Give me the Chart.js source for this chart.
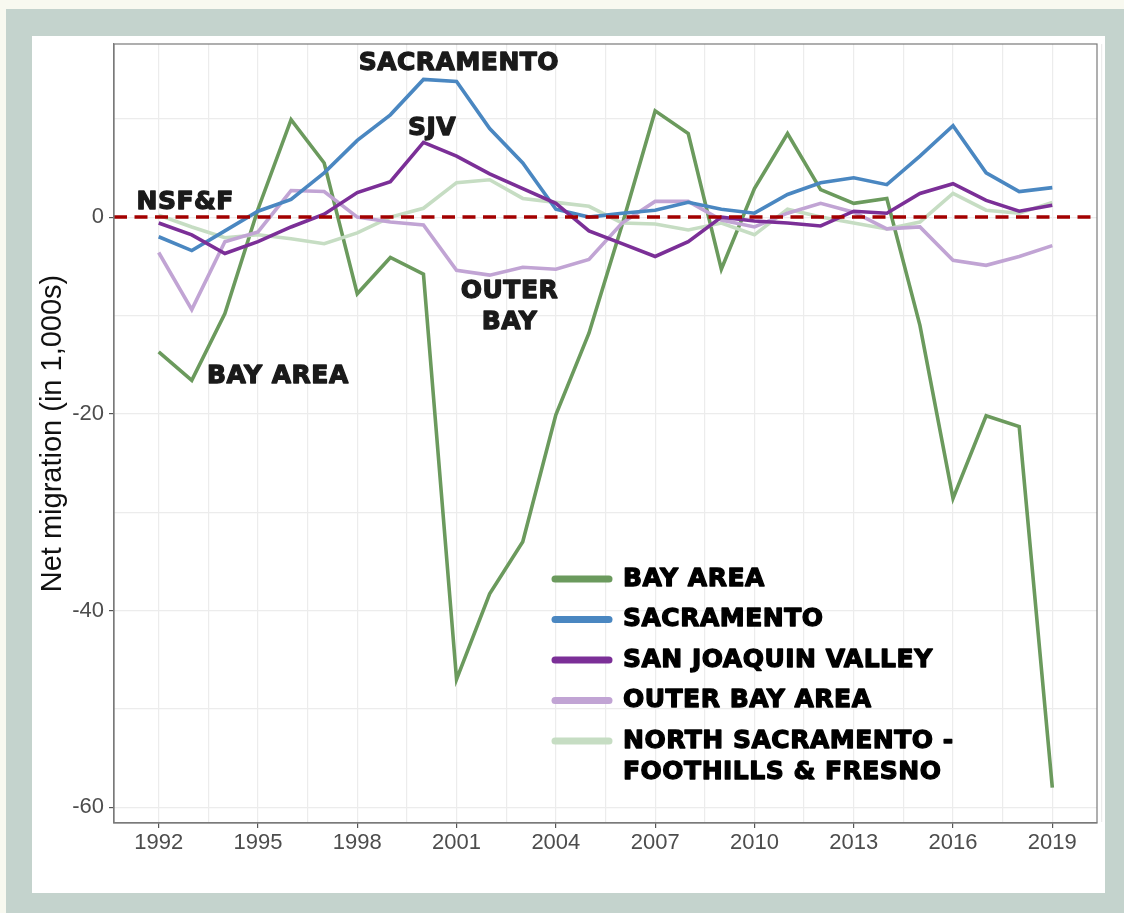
<!DOCTYPE html>
<html>
<head>
<meta charset="utf-8">
<script src="https://cdn.jsdelivr.net/npm/chart.js@4.4.1/dist/chart.umd.min.js"></script>
<style>
    html, body { margin: 0; padding: 0; }
    body { width: 1124px; height: 913px; background: #f8f9f0; position: relative; overflow: hidden; }
    #frame { position: absolute; left: 6px; top: 9px; right: 0; bottom: 0; background: #c4d3cd; }
    #panel { position: absolute; left: 32px; top: 36px; width: 1073px; height: 857px; background: #fff; }
    #migrationChart { display: block; }
</style>
</head>
<body>
<div id="frame"></div>
<div id="panel"><canvas id="migrationChart" width="1073" height="857"></canvas></div>
<script>
const years = [1992, 1993, 1994, 1995, 1996, 1997, 1998, 1999, 2000, 2001, 2002, 2003, 2004, 2005,
    2006, 2007, 2008, 2009, 2010, 2011, 2012, 2013, 2014, 2015, 2016, 2017, 2018, 2019];

// net migration, thousands
const bayArea = [-13.7, -16.6, -9.8, 0.8, 9.9, 5.5, -7.8, -4.1, -5.8, -47.0, -38.3, -33.0, -20.1, -11.8,
    -0.8, 10.8, 8.5, -5.3, 2.9, 8.5, 2.8, 1.4, 1.9, -11.0, -28.6, -20.2, -21.3, -58.0];
const sacramento = [-2.0, -3.4, -1.4, 0.6, 1.8, 4.5, 7.8, 10.4, 14.0, 13.8, 9.0, 5.5, 0.8, 0.0,
    0.4, 0.7, 1.5, 0.8, 0.4, 2.3, 3.5, 4.0, 3.3, 6.2, 9.3, 4.5, 2.6, 3.0];
const sanJoaquin = [-0.6, -1.8, -3.7, -2.5, -1.0, 0.3, 2.5, 3.6, 7.6, 6.2, 4.4, 2.9, 1.4, -1.4,
    -2.7, -4.0, -2.5, 0.0, -0.4, -0.6, -0.9, 0.6, 0.4, 2.4, 3.4, 1.7, 0.6, 1.2];
const outerBay = [-3.6, -9.4, -2.5, -1.5, 2.7, 2.6, 0.0, -0.5, -0.8, -5.4, -5.9, -5.1, -5.3, -4.3,
    -0.6, 1.6, 1.6, -0.3, -1.0, 0.4, 1.4, 0.5, -1.2, -1.0, -4.4, -4.9, -4.0, -2.9];
const northSac = [0.2, -1.0, -2.1, -1.8, -2.2, -2.7, -1.6, 0.0, 0.9, 3.5, 3.8, 1.9, 1.5, 1.1,
    -0.6, -0.7, -1.3, -0.6, -1.8, 0.8, 0.0, -0.6, -1.2, -0.5, 2.4, 0.7, 0.4, 1.5];

const seriesNames = ['BAY AREA', 'SACRAMENTO', 'SAN JOAQUIN VALLEY', 'OUTER BAY AREA',
    ['NORTH SACRAMENTO -', 'FOOTHILLS & FRESNO']];

const xTickLabels = [1992, 1995, 1998, 2001, 2004, 2007, 2010, 2013, 2016, 2019];
const yTickLabels = [-60, -40, -20, 0];

const colors = ['#6b9a5d', '#4a87c1', '#7b2f97', '#c1a4d4', '#c6ddc3'];
const drawOrder = [4, 1, 0, 2, 3];

// in-plot labels, placed in data units
const annotations = [
    { text: 'SACRAMENTO', x: 2001.07, y: 15.6 },
    { text: 'SJV', x: 2000.26, y: 9.05 },
    { text: 'NSF&F', x: 1992.8, y: 1.5 },
    { text: 'OUTER', x: 2002.6, y: -7.6 },
    { text: 'BAY', x: 2002.6, y: -10.7 },
    { text: 'BAY AREA', x: 1995.6, y: -16.2 }
];

const boldFont = 'bold 25px "DejaVu Sans", sans-serif';

function midpoints(list) {
    const out = [];
    for (let i = 0; i < list.length - 1; i++) out.push((list[i] + list[i + 1]) / 2);
    return out;
}
const xGrid = xTickLabels.concat(midpoints(xTickLabels), [xTickLabels[xTickLabels.length - 1] + 1.5]).sort((a, b) => a - b);
const yGrid = yTickLabels.concat(midpoints(yTickLabels), [10]).sort((a, b) => a - b);

function pairs(values) {
    return years.map((yr, i) => ({ x: yr, y: values[i] }));
}

// heavy text: fill plus a thin stroke in the same colour
function heavyText(ctx, text, x, y) {
    ctx.strokeText(text, x, y);
    ctx.fillText(text, x, y);
}

const allSeries = [bayArea, sacramento, sanJoaquin, outerBay, northSac];

const overlayPlugin = {
    id: 'overlay',
    afterDatasetsDraw(chart) {
        const { ctx, chartArea, scales } = chart;
        const zeroY = scales.y.getPixelForValue(0);

        ctx.save();
        ctx.beginPath();
        ctx.rect(chartArea.left, chartArea.top, chartArea.right - chartArea.left, chartArea.bottom - chartArea.top);
        ctx.clip();
        ctx.strokeStyle = '#a30000';
        ctx.lineWidth = 3.5;
        ctx.setLineDash([13, 7.5]);
        ctx.beginPath();
        ctx.moveTo(chartArea.left, zeroY);
        ctx.lineTo(chartArea.right, zeroY);
        ctx.stroke();
        ctx.restore();

        ctx.save();
        ctx.strokeStyle = '#7a7a7a';
        ctx.lineWidth = 1.2;
        ctx.strokeRect(chartArea.left, chartArea.top, chartArea.right - chartArea.left, chartArea.bottom - chartArea.top);

        ctx.font = boldFont;
        ctx.letterSpacing = '0.5px';
        ctx.fillStyle = '#1a1a1a';
        ctx.strokeStyle = '#1a1a1a';
        ctx.lineWidth = 1.3;
        ctx.lineJoin = 'round';
        ctx.textAlign = 'center';
        ctx.textBaseline = 'middle';
        annotations.forEach((a) => {
            heavyText(ctx, a.text, scales.x.getPixelForValue(a.x), scales.y.getPixelForValue(a.y));
        });

        // legend
        const swatchLeft = 523;
        const swatchRight = 577;
        const textLeft = 591;
        let rowY = 543;
        ctx.textAlign = 'left';
        chart.data.datasets.forEach((ds) => {
            ctx.strokeStyle = ds.borderColor;
            ctx.lineWidth = 7;
            ctx.lineCap = 'round';
            ctx.beginPath();
            ctx.moveTo(swatchLeft, rowY);
            ctx.lineTo(swatchRight, rowY);
            ctx.stroke();
            ctx.lineCap = 'butt';
            ctx.strokeStyle = '#000';
            ctx.fillStyle = '#000';
            ctx.lineWidth = 1.3;
            const lines = Array.isArray(ds.label) ? ds.label : [ds.label];
            lines.forEach((line, k) => {
                heavyText(ctx, line, textLeft, rowY + k * 31);
            });
            rowY += 40.5;
        });
        ctx.restore();
    }
};

const ctx = document.getElementById('migrationChart').getContext('2d');
new Chart(ctx, {
    type: 'line',
    data: {
        datasets: allSeries.map((values, i) => ({
            label: seriesNames[i],
            data: pairs(values),
            borderColor: colors[i],
            backgroundColor: colors[i],
            borderWidth: 3.6,
            pointRadius: 0,
            tension: 0,
            fill: false,
            order: drawOrder[i]
        }))
    },
    options: {
        responsive: false,
        animation: false,
        devicePixelRatio: 1,
        layout: { padding: { top: 8, right: 8, left: 0, bottom: 0 } },
        plugins: {
            legend: { display: false },
            tooltip: { enabled: false }
        },
        scales: {
            x: {
                type: 'linear',
                min: 1990.65,
                max: 2020.35,
                afterBuildTicks: (scale) => { scale.ticks = xGrid.map((v) => ({ value: v })); },
                afterFit: (scale) => {
                    scale.height = 70;
                    scale.paddingLeft = 0;
                    scale.paddingRight = 0;
                },
                grid: {
                    color: '#ececec',
                    lineWidth: 1.2,
                    tickLength: 5,
                    tickWidth: 1.2,
                    tickColor: (c) => (xTickLabels.includes(c.tick && c.tick.value) ? '#555' : 'rgba(0,0,0,0)')
                },
                border: { display: true, color: '#7a7a7a', width: 1.2 },
                ticks: {
                    autoSkip: false,
                    maxRotation: 0,
                    padding: 2,
                    color: '#4d4d4d',
                    font: { family: '"Liberation Sans", Arial, sans-serif', size: 22 },
                    callback: (v) => (xTickLabels.includes(v) ? String(v) : '')
                }
            },
            y: {
                min: -61.6,
                max: 17.6,
                afterBuildTicks: (scale) => { scale.ticks = yGrid.map((v) => ({ value: v })); },
                afterFit: (scale) => {
                    scale.width = 82;
                    scale.paddingTop = 0;
                    scale.paddingBottom = 0;
                },
                grid: {
                    color: '#ececec',
                    lineWidth: 1.2,
                    tickLength: 5,
                    tickWidth: 1.2,
                    tickColor: (c) => (yTickLabels.includes(c.tick && c.tick.value) ? '#555' : 'rgba(0,0,0,0)')
                },
                border: { display: true, color: '#7a7a7a', width: 1.2 },
                ticks: {
                    autoSkip: false,
                    padding: 5,
                    color: '#4d4d4d',
                    font: { family: '"Liberation Sans", Arial, sans-serif', size: 22 },
                    callback: (v) => (yTickLabels.includes(v) ? String(v) : '')
                },
                title: {
                    display: true,
                    text: 'Net migration (in 1,000s)',
                    color: '#111',
                    padding: { top: 4, bottom: 0 },
                    font: { family: '"Liberation Sans", Arial, sans-serif', size: 29 }
                }
            }
        }
    },
    plugins: [overlayPlugin]
});
</script>
</body>
</html>
